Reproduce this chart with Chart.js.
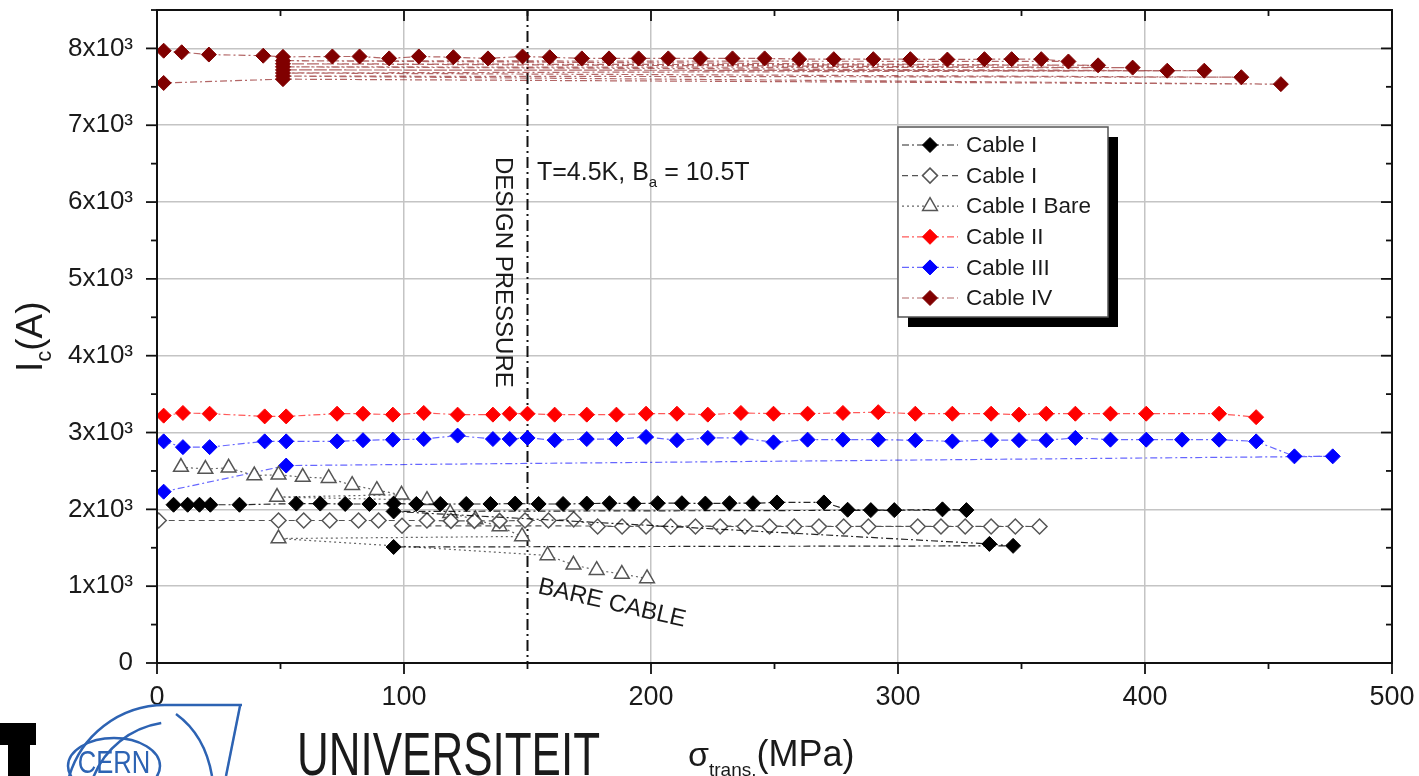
<!DOCTYPE html>
<html>
<head>
<meta charset="utf-8">
<title>Ic vs transverse stress</title>
<script src="https://cdn.jsdelivr.net/npm/chart.js@4.4.0/dist/chart.umd.min.js"></script>
<style>
  html, body { margin: 0; padding: 0; background: #fff; }
  #wrap { width: 1419px; height: 776px; }
</style>
</head>
<body>
<div id="wrap"><canvas id="myChart" width="1419" height="776"></canvas></div>
<script>
var cableIX = [6.7, 12.4, 17.2, 21.6, 33.4, 56.4, 66.1, 76.2, 86, 95.8, 105, 114.7, 125.2, 135, 145, 154.5, 164.4, 174, 183.2, 193, 202.7, 212.5, 222, 231.8, 241.3, 251, 270, 279.6, 289, 298.5, 318, 327.7, 95.8, 337, 346.6, 95.8];
var cableIY = [2060, 2060, 2060, 2060, 2060, 2075, 2075, 2070, 2070, 2075, 2070, 2070, 2070, 2070, 2075, 2070, 2070, 2075, 2080, 2075, 2080, 2080, 2075, 2080, 2080, 2090, 2090, 1995, 1990, 1990, 2000, 1990, 1973, 1550, 1525, 1510];

var cableIOpenX = [0.7, 49.2, 59.4, 69.9, 81.6, 89.7, 109.3, 119, 128.5, 138.7, 149, 158.5, 168.7, 178.4, 188.3, 198, 208, 218, 228, 238, 248, 258, 268, 278, 288, 308, 317.4, 327.2, 337.7, 347.5, 357.3, 99.2];
var cableIOpenY = [1855, 1855, 1855, 1855, 1855, 1855, 1855, 1850, 1850, 1850, 1855, 1855, 1870, 1777, 1777, 1777, 1777, 1777, 1777, 1777, 1777, 1777, 1777, 1777, 1777, 1777, 1777, 1777, 1777, 1777, 1777, 1786];

var cableIBareX = [9.7, 19.6, 29, 39.4, 49.2, 59, 69.5, 79, 89, 99, 48.6, 109.3, 118.7, 128.9, 138.7, 147.8, 49.2, 158.1, 168.6, 178, 188.2, 198.4];
var cableIBareY = [2550, 2525, 2540, 2440, 2450, 2420, 2405, 2315, 2250, 2190, 2160, 2120, 1950, 1868, 1777, 1647, 1620, 1400, 1278, 1208, 1158, 1100];

var cableIIX = [2.7, 10.5, 21.3, 43.6, 52.3, 72.9, 83.4, 95.5, 108, 121.7, 136, 142.8, 150, 161, 174, 186, 198, 210.5, 223, 236.4, 249.6, 263.4, 277.7, 292, 307, 322, 337.7, 349, 360, 371.8, 386, 400.5, 430, 445];
var cableIIY = [3220, 3255, 3245, 3210, 3210, 3245, 3245, 3233, 3255, 3233, 3233, 3245, 3245, 3233, 3233, 3233, 3245, 3245, 3233, 3255, 3245, 3245, 3255, 3265, 3245, 3245, 3245, 3233, 3245, 3245, 3245, 3245, 3245, 3200];

var cableIIIX = [2.7, 10.5, 21.3, 43.6, 52.3, 72.9, 83.4, 95.5, 108, 121.7, 136, 142.8, 150, 161, 174, 186, 198, 210.5, 223, 236.4, 249.6, 263.4, 277.7, 292, 307, 322, 337.7, 349, 360, 371.8, 386, 400.5, 415, 430, 445, 460.5, 476, 52.3, 2.7];
var cableIIIY = [2885, 2810, 2810, 2885, 2885, 2885, 2900, 2907, 2915, 2960, 2915, 2915, 2930, 2900, 2915, 2915, 2943, 2900, 2930, 2930, 2872, 2907, 2907, 2907, 2900, 2885, 2900, 2900, 2900, 2930, 2907, 2907, 2907, 2907, 2885, 2690, 2690, 2570, 2230];

var cableIVX = [2.7, 10, 21, 43, 51, 71, 82, 94, 106, 120, 134, 148, 159, 172, 183, 195, 207, 220, 233, 246, 260, 274, 290, 305, 320, 335, 346, 358, 369, 51, 381, 51, 395, 51, 409, 51, 424, 51, 439, 51, 455, 51, 2.7];
var cableIVY = [7970, 7950, 7920, 7905, 7890, 7895, 7895, 7870, 7895, 7885, 7870, 7895, 7885, 7870, 7870, 7870, 7870, 7870, 7870, 7870, 7860, 7860, 7860, 7860, 7855, 7860, 7860, 7860, 7830, 7840, 7780, 7800, 7750, 7760, 7710, 7720, 7710, 7680, 7625, 7640, 7535, 7600, 7550];

var seriesNames = ['Cable I', 'Cable I', 'Cable I Bare', 'Cable II', 'Cable III', 'Cable IV'];
var xTickValues = [0, 100, 200, 300, 400, 500];
var yTickValues = [0, 1000, 2000, 3000, 4000, 5000, 6000, 7000, 8000];
var designPressure = 150;

var FONT = "'Liberation Sans', Arial, sans-serif";
var dashDot = [7, 3, 2, 3];

function pts(xs, ys) {
  return xs.map(function (x, i) { return { x: x, y: ys[i] }; });
}

function series(label, xs, ys, o) {
  return {
    label: label,
    data: pts(xs, ys),
    showLine: true,
    borderColor: o.line,
    borderWidth: 1.2,
    borderDash: o.dash,
    pointStyle: o.style,
    pointRadius: o.r,
    pointBackgroundColor: o.fill,
    pointBorderColor: o.stroke,
    pointBorderWidth: o.bw,
    backgroundColor: o.fill
  };
}

var styles = [
  { line: 'rgba(0,0,0,0.85)', dash: dashDot, style: 'rectRot', r: 7.5, fill: '#000', stroke: '#000', bw: 1 },
  { line: '#555', dash: [6, 4], style: 'rectRot', r: 7.5, fill: '#fff', stroke: '#555', bw: 1.5 },
  { line: '#666', dash: [2, 3], style: 'triangle', r: 8.5, fill: '#fff', stroke: '#555', bw: 1.5 },
  { line: 'rgba(255,0,0,0.65)', dash: dashDot, style: 'rectRot', r: 7.5, fill: '#ff0000', stroke: '#ff0000', bw: 1 },
  { line: 'rgba(0,0,255,0.6)', dash: dashDot, style: 'rectRot', r: 7.5, fill: '#0000ff', stroke: '#0000ff', bw: 1 },
  { line: 'rgba(128,0,0,0.6)', dash: dashDot, style: 'rectRot', r: 7.5, fill: '#800000', stroke: '#800000', bw: 1 }
];

function seg(c, x1, y1, x2, y2) {
  c.beginPath(); c.moveTo(x1, y1); c.lineTo(x2, y2); c.stroke();
}

function marker(c, style, x, y, r, fill, stroke, lw) {
  c.beginPath();
  if (style === 'rectRot') {
    c.moveTo(x, y - r); c.lineTo(x + r, y); c.lineTo(x, y + r); c.lineTo(x - r, y);
  } else {
    c.moveTo(x, y - r); c.lineTo(x + r * 0.866, y + r / 2); c.lineTo(x - r * 0.866, y + r / 2);
  }
  c.closePath();
  c.setLineDash([]);
  c.fillStyle = fill; c.fill();
  c.lineWidth = lw; c.strokeStyle = stroke; c.stroke();
}

// draws a run of text pieces [text, size, dy], returns end x
function parts(c, x, y, list, color) {
  c.fillStyle = color || '#1a1a1a';
  c.textBaseline = 'alphabetic';
  c.textAlign = 'left';
  list.forEach(function (p) {
    c.font = p[1] + 'px ' + FONT;
    c.fillText(p[0], x, y + (p[2] || 0));
    x += c.measureText(p[0]).width;
  });
  return x;
}

var extras = {
  id: 'extras',
  beforeDatasetsDraw: function (chart) {
    var c = chart.ctx, a = chart.chartArea, xs = chart.scales.x;
    var px = xs.getPixelForValue(designPressure);
    c.save();
    c.strokeStyle = '#111'; c.lineWidth = 2;
    c.setLineDash([11, 4, 2, 4]);
    seg(c, px, a.top, px, a.bottom);
    c.restore();
  },
  afterDraw: function (chart) {
    var c = chart.ctx, a = chart.chartArea, xs = chart.scales.x, ys = chart.scales.y;
    var v, p;
    c.save();
    c.setLineDash([]);

    // frame and tick marks (left/bottom outward, top/right inward)
    c.strokeStyle = '#111'; c.lineWidth = 2;
    c.strokeRect(a.left, a.top, a.right - a.left, a.bottom - a.top);
    c.lineWidth = 1.8;
    for (v = 0; v <= 500; v += 50) {
      p = xs.getPixelForValue(v);
      var lx = v % 100 === 0 ? 11 : 6;
      seg(c, p, a.bottom, p, a.bottom + lx);
      seg(c, p, a.top, p, a.top + lx);
    }
    for (v = 0; v <= 8500; v += 500) {
      p = ys.getPixelForValue(v);
      var ly = v % 1000 === 0 ? 11 : 6;
      seg(c, a.left - ly, p, a.left, p);
      seg(c, a.right - ly, p, a.right, p);
    }

    // annotations
    parts(c, 537, 180, [['T=4.5K, B', 25], ['a', 15, 7], [' = 10.5T', 25]]);

    c.save();
    c.translate(496, 157);
    c.rotate(Math.PI / 2);
    c.font = '24px ' + FONT;
    c.fillStyle = '#1a1a1a';
    c.textBaseline = 'alphabetic';
    c.fillText('DESIGN PRESSURE', 0, 0);
    c.restore();

    c.save();
    c.translate(537, 593);
    c.rotate(13 * Math.PI / 180);
    c.font = '24px ' + FONT;
    c.fillStyle = '#1a1a1a';
    c.textBaseline = 'alphabetic';
    c.fillText('BARE CABLE', 0, 0);
    c.restore();

    // axis titles
    c.save();
    c.translate(42, 372);
    c.rotate(-Math.PI / 2);
    parts(c, 0, 0, [['I', 37], ['c', 22, 9], ['(A)', 37]]);
    c.restore();
    parts(c, 688, 766, [['\u03c3', 34], ['trans.', 19, 10], ['(MPa)', 36]]);

    // legend box with drop shadow
    var bx = 898, by = 127, bw = 210, bh = 190;
    c.fillStyle = '#000';
    c.fillRect(bx + 10, by + 10, bw, bh);
    c.fillStyle = '#fff';
    c.fillRect(bx, by, bw, bh);
    c.strokeStyle = '#555'; c.lineWidth = 1.5;
    c.strokeRect(bx, by, bw, bh);
    seriesNames.forEach(function (name, i) {
      var st = styles[i], y = 145 + i * 30.6;
      c.strokeStyle = st.line; c.lineWidth = 1.2;
      c.setLineDash(st.dash);
      seg(c, 902, y, 958, y);
      marker(c, st.style, 930, y, st.r, st.fill, st.stroke, st.bw);
      c.font = '22.5px ' + FONT;
      c.fillStyle = '#1a1a1a';
      c.textBaseline = 'middle';
      c.textAlign = 'left';
      c.fillText(name, 966, y + 1);
    });
    c.setLineDash([]);
    c.textBaseline = 'alphabetic';

    // slide footer fragments below the plot
    c.fillStyle = '#000';
    c.fillRect(0, 723, 36, 22);
    c.fillRect(8, 745, 22, 31);

    c.strokeStyle = '#2d63b3'; c.lineWidth = 2.5;
    c.beginPath(); c.arc(165, 805, 100, 1.08 * Math.PI, 1.5 * Math.PI); c.lineTo(242, 705); c.stroke();
    c.beginPath(); c.arc(175, 810, 88, 1.12 * Math.PI, 1.45 * Math.PI); c.stroke();
    c.beginPath(); c.ellipse(114, 766, 46, 28, 0, 0, 2 * Math.PI); c.stroke();
    c.beginPath(); c.moveTo(240, 706); c.lineTo(226, 776); c.stroke();
    c.beginPath(); c.moveTo(176, 714); c.quadraticCurveTo(205, 735, 212, 776); c.stroke();
    c.save();
    c.translate(114, 773);
    c.scale(0.8, 1);
    c.font = '32px ' + FONT;
    c.fillStyle = '#2d63b3';
    c.textAlign = 'center';
    c.textBaseline = 'alphabetic';
    c.fillText('CERN', 0, 0);
    c.restore();

    c.save();
    c.font = '62px ' + FONT;
    c.textAlign = 'left';
    c.textBaseline = 'alphabetic';
    var w = c.measureText('UNIVERSITEIT').width;
    c.translate(297, 775);
    c.scale(303 / w, 1);
    c.fillStyle = '#1a1a1a';
    c.fillText('UNIVERSITEIT', 0, 0);
    c.restore();

    c.restore();
  }
};

Chart.defaults.font.family = FONT;

var ctx = document.getElementById('myChart');

var myChart = new Chart(ctx, {
  type: 'scatter',
  data: {
    datasets: seriesNames.map(function (name, i) {
      var xs = [cableIX, cableIOpenX, cableIBareX, cableIIX, cableIIIX, cableIVX][i];
      var ys = [cableIY, cableIOpenY, cableIBareY, cableIIY, cableIIIY, cableIVY][i];
      return series(name, xs, ys, styles[i]);
    })
  },
  options: {
    responsive: false,
    animation: false,
    devicePixelRatio: 1,
    layout: { padding: { top: 10, right: 27, left: 0, bottom: 0 } },
    plugins: {
      legend: { display: false },
      tooltip: { enabled: false }
    },
    scales: {
      x: {
        type: 'linear',
        min: 0,
        max: 500,
        afterFit: function (s) {
          s.height = 113;
          s.paddingLeft = 0; s.paddingRight = 0;
        },
        ticks: {
          stepSize: 50,
          autoSkip: false,
          maxRotation: 0,
          padding: 18,
          color: '#1a1a1a',
          font: { size: 27 },
          callback: function (v) { return xTickValues.indexOf(v) >= 0 ? String(v) : ''; }
        },
        grid: {
          drawTicks: false,
          lineWidth: 1.5,
          color: function (c) {
            var v = c.tick && c.tick.value;
            return (v % 100 === 0 && v > 0 && v < 500) ? '#c4c4c4' : 'rgba(0,0,0,0)';
          }
        },
        border: { display: false }
      },
      y: {
        type: 'linear',
        min: 0,
        max: 8500,
        afterFit: function (s) {
          s.width = 157;
          s.paddingTop = 0; s.paddingBottom = 0;
        },
        ticks: {
          stepSize: 500,
          autoSkip: false,
          padding: 24,
          color: '#1a1a1a',
          font: { size: 26 },
          callback: function (v) {
            if (yTickValues.indexOf(v) < 0) return '';
            return v === 0 ? '0' : (v / 1000) + 'x10\u00b3';
          }
        },
        grid: {
          drawTicks: false,
          lineWidth: 1.5,
          color: function (c) {
            var v = c.tick && c.tick.value;
            return (v % 1000 === 0 && v > 0) ? '#c4c4c4' : 'rgba(0,0,0,0)';
          }
        },
        border: { display: false }
      }
    }
  },
  plugins: [extras]
});
</script>
</body>
</html>
